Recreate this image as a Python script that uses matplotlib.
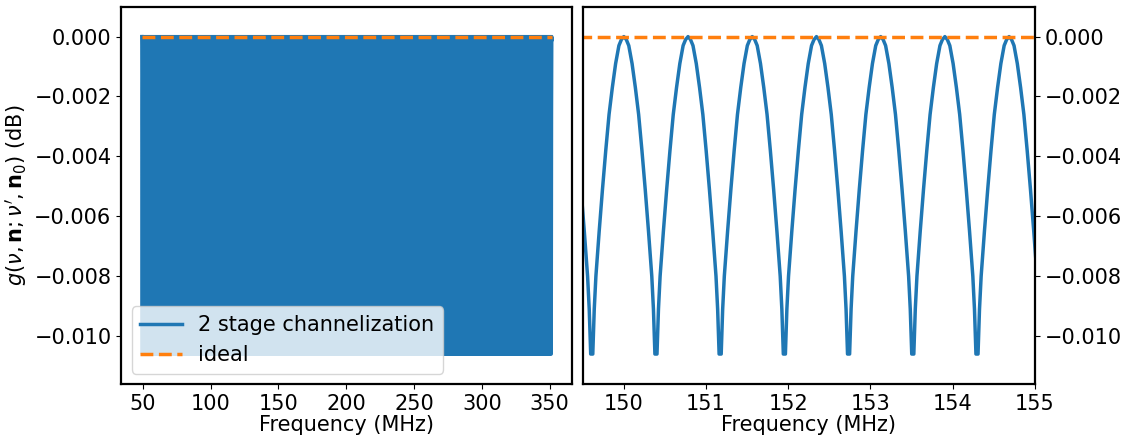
import matplotlib
matplotlib.use("Agg")
import matplotlib.pyplot as plt
import numpy as np

# channel grid (MHz): peaks at 150, 150.78, 151.56 ...
chan_spacing = 0.78125
chan_ref = 150.0
band_lo, band_hi = 49.2, 351.6

# one half of a scallop
# offset from channel centre (MHz) -> gain (dB)
prof_off = [0.0, 0.03, 0.06, 0.10, 0.14, 0.18, 0.22, 0.26, 0.30, 0.34, 0.36, 0.378, 0.391]
prof_gain = [0.0, -0.0001, -0.0003, -0.0009, -0.0017, -0.0026, -0.0038, -0.0051,
             -0.0065, -0.0080, -0.0091, -0.0106, -0.0106]

zoom_lo, zoom_hi = 149.5, 155.0


def scallop(lo, hi):
    off = np.array(prof_off)
    g = np.array(prof_gain)
    one_off = np.concatenate([-off[:0:-1], off])
    one_g = np.concatenate([g[:0:-1], g])
    k0 = int(np.floor((lo - chan_ref) / chan_spacing)) - 1
    k1 = int(np.ceil((hi - chan_ref) / chan_spacing)) + 1
    xs, ys = [], []
    for k in range(k0, k1 + 1):
        c = chan_ref + k * chan_spacing
        xs.append(c + one_off)
        ys.append(one_g)
    x = np.concatenate(xs)
    y = np.concatenate(ys)
    m = (x >= lo) & (x <= hi)
    return x[m], y[m]


plt.rcParams['font.size'] = 15

fig = plt.figure(figsize=(11.25, 4.41), dpi=100)
ax1 = fig.add_axes([0.1078, 0.1293, 0.4009, 0.8556])
ax2 = fig.add_axes([0.518, 0.1293, 0.4018, 0.8556], sharey=ax1)

x, y = scallop(band_lo, band_hi)
ax1.plot(x, y, color='#1f77b4', lw=2.5, label='2 stage channelization')
ax1.plot([band_lo, band_hi], [0, 0], '--', color='#ff7f0e', lw=2.5, label='ideal')
ax1.set_xlabel('Frequency (MHz)', labelpad=1)
ax1.set_ylabel(r"$g(\nu, \mathbf{n}; \nu', \mathbf{n}_0)$ (dB)")
ax1.legend(loc='lower left')
ax1.set_xticks([50, 100, 150, 200, 250, 300, 350])

x2, y2 = scallop(zoom_lo - 0.5, zoom_hi + 0.5)
ax2.plot(x2, y2, color='#1f77b4', lw=2.5)
ax2.plot([zoom_lo - 0.5, zoom_hi + 0.5], [0, 0], '--', color='#ff7f0e', lw=2.5)
ax2.set_xlim(zoom_lo, zoom_hi)
ax2.set_xlabel('Frequency (MHz)', labelpad=1)
ax2.yaxis.tick_right()
ax2.set_xticks([150, 151, 152, 153, 154, 155])

ax1.set_ylim(-0.0116, 0.001)
for a in (ax1, ax2):
    for s in a.spines.values():
        s.set_linewidth(1.6)

fig.savefig('out.png', dpi=100)
